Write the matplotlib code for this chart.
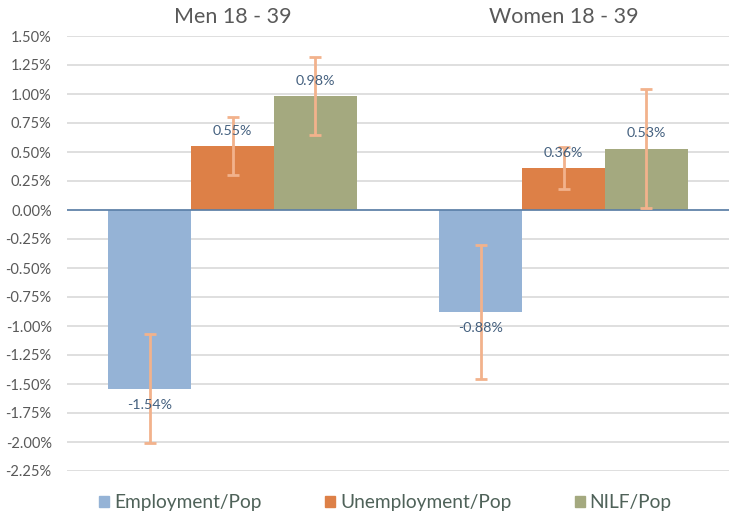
import matplotlib.pyplot as plt
import numpy as np
from matplotlib.patches import Patch

groups = ["Men 18 - 39", "Women 18 - 39"]
series = ["Employment/Pop", "Unemployment/Pop", "NILF/Pop"]
values = [[-1.54, -0.88], [0.55, 0.36], [0.98, 0.53]]
errors = [[0.47, 0.58], [0.25, 0.18], [0.335, 0.51]]
colors = ["#95B3D6", "#DD8047", "#A4A97F"]
yticks = [1.5, 1.25, 1.0, 0.75, 0.5, 0.25, 0.0, -0.25, -0.5, -0.75, -1.0, -1.25, -1.5, -1.75, -2.0, -2.25]

plt.rcParams['font.family'] = ['Lato', 'DejaVu Sans']

fig = plt.figure(figsize=(7.29, 5.12), dpi=100)
ax = fig.add_axes([67 / 729, 41 / 512, 1 - 67 / 729, 435 / 512])

x = np.arange(len(groups))
w = 0.25
for i, s in enumerate(series):
    pos = x + (i - 1) * w
    ax.bar(pos, values[i], w, color=colors[i], zorder=2)
    ax.errorbar(pos, values[i], yerr=errors[i], fmt='none', ecolor='#F2B28C',
                elinewidth=2, capsize=4, capthick=2, zorder=3)
    for p, v in zip(pos, values[i]):
        off = 11 if v > 0 else -11.5
        ax.annotate(f"{v:.2f}%", (p, v), xytext=(0, off), textcoords='offset points',
                    ha='center', va='center', fontsize=10.3, color='#44607F', zorder=4)

for xi, g in zip(x, groups):
    ax.text(xi, 1.5 + 0.165, g, ha='center', va='center', fontsize=15.5, color='#595959')

ax.set_xlim(-0.5, 1.5)
ax.set_ylim(-2.25, 1.5)
ax.set_yticks(yticks)
ax.set_yticklabels([f"{t:.2f}%" for t in yticks], fontsize=10.5, color='#595959')
ax.set_xticks([])
ax.tick_params(axis='y', length=0, pad=11)
ax.grid(axis='y', color='#D9D9D9', linewidth=1.2, zorder=0)
ax.axhline(0, color='#5A7FA8', linewidth=1.2, zorder=2.5)
for sp in ax.spines.values():
    sp.set_visible(False)

handles = [Patch(color=c, label=s) for c, s in zip(colors, series)]
fig.legend(handles=handles, loc='center', ncol=3, frameon=False,
           bbox_to_anchor=(0.529, 0.018), fontsize=13.8, labelcolor='#4F6259',
           handlelength=0.52, handleheight=0.52, handletextpad=0.26, columnspacing=3.3,
           borderpad=0, borderaxespad=0)

fig.savefig("out.png", dpi=100)
